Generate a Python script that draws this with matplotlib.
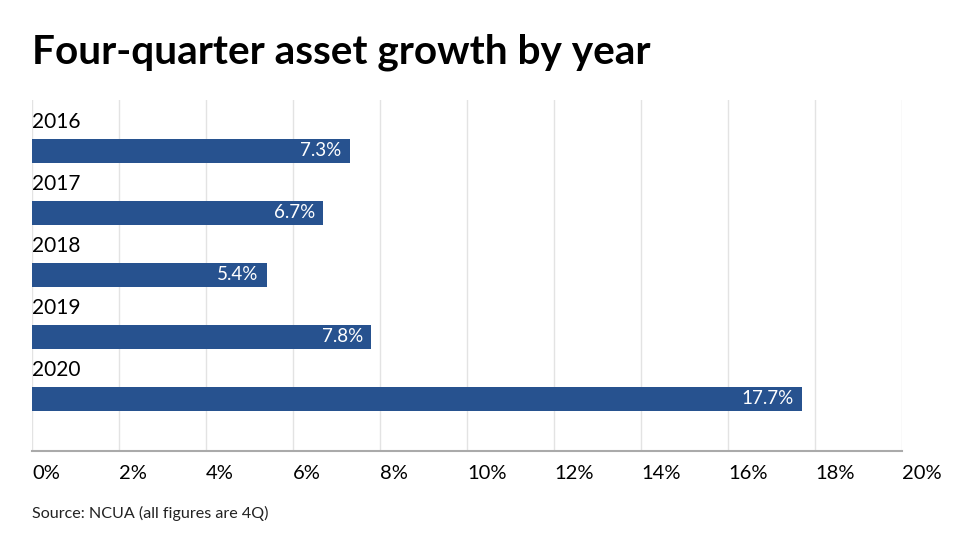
import matplotlib.pyplot as plt

years = ["2016", "2017", "2018", "2019", "2020"]
growth = [7.3, 6.7, 5.4, 7.8, 17.7]
ticks = [0, 2, 4, 6, 8, 10, 12, 14, 16, 18, 20]

BAR_COLOR = "#27528f"

plt.rcParams["font.family"] = ["Lato", "DejaVu Sans"]

fig = plt.figure(figsize=(9.78, 5.5), dpi=100)
ax = fig.add_axes([32 / 978, 1 - 451 / 550, 870 / 978, 351 / 550])

pos = list(range(len(years)))
ax.barh(pos, growth, height=0.39, color=BAR_COLOR, zorder=3)

for y, v, yr in zip(pos, growth, years):
    ax.annotate(f"{v}%", (v, y), xytext=(-6, 0), textcoords="offset points",
                ha="right", va="center", color="white", fontsize=13.5, zorder=4)
    ax.text(0, y - 0.46, yr, ha="left", va="center", fontsize=15, color="black")

ax.set_xlim(0, 20)
ax.set_ylim(4.84, -0.82)
ax.set_xticks(ticks)
ax.set_xticklabels([f"{t}%" for t in ticks], ha="left", fontsize=14.5)
ax.set_yticks([])
ax.tick_params(axis="x", length=0, pad=10)
ax.grid(axis="x", color="#e3e3e3", linewidth=1, zorder=0)
for s in ["top", "right", "left"]:
    ax.spines[s].set_visible(False)
ax.spines["bottom"].set_color("#aaaaaa")
ax.spines["bottom"].set_linewidth(1.5)

fig.text(32 / 978, 1 - 52 / 550, "Four-quarter asset growth by year",
         fontsize=29.2, fontweight="bold", ha="left", va="center")
fig.text(32 / 978, 1 - 513 / 550, "Source: NCUA (all figures are 4Q)",
         fontsize=11.6, ha="left", va="center", color="#222222")

fig.savefig("out.png", dpi=100)
